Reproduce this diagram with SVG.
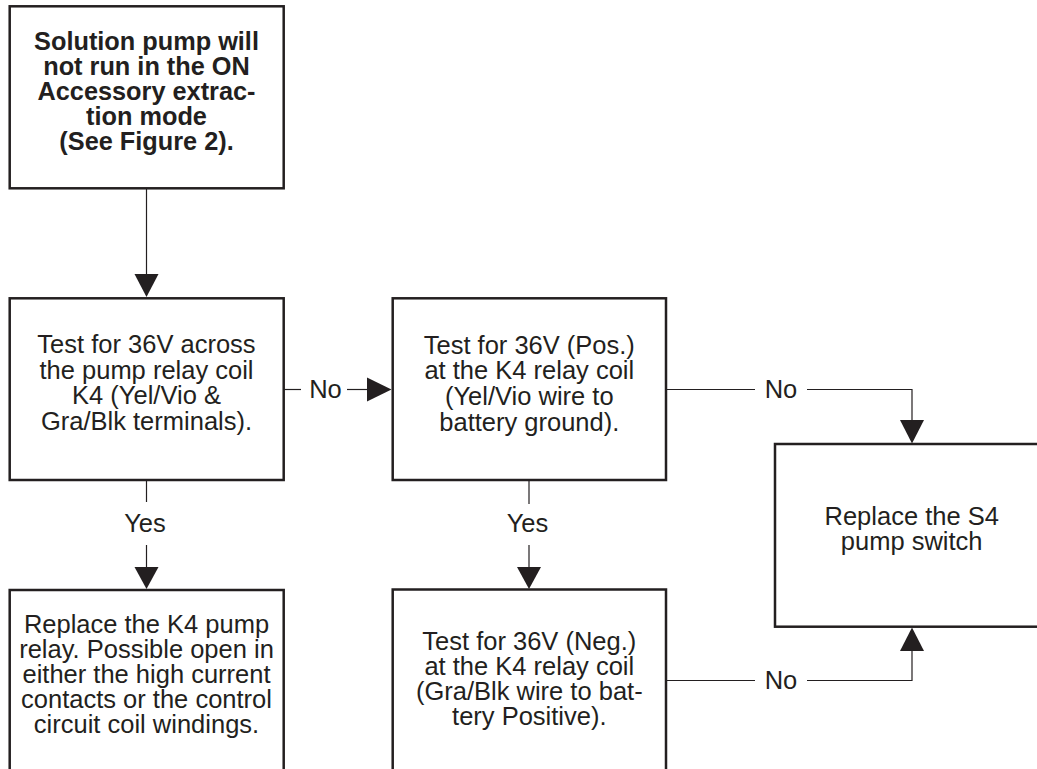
<svg xmlns="http://www.w3.org/2000/svg" width="1037" height="769" viewBox="0 0 1037 769">
<style>
.box{fill:#fff;stroke:#231f20;stroke-width:2.5}
.c{fill:none;stroke:#231f20;stroke-width:1.2}
.ah{fill:#231f20}
text{font-family:"Liberation Sans",Arial,Helvetica,sans-serif;fill:#231f20;text-anchor:middle}
.t{font-size:25.5px}
.b{font-size:25.3px;font-weight:bold}
.l{font-size:25.5px}
</style>
<rect width="1037" height="769" fill="#fff"/>
<g id="connectors">
<path class="c" d="M146.5 188.5V275"/>
<polygon class="ah" points="134.5,274 158.5,274 146.5,297"/>
<path class="c" d="M284 389.5H301"/>
<path class="c" d="M347 389.5H368"/>
<polygon class="ah" points="367,377.5 367,401.5 391.5,389.5"/>
<text class="l" x="325.5" y="398">No</text>
<path class="c" d="M666 389.5H755"/>
<path class="c" d="M807 389.5H912V421"/>
<polygon class="ah" points="900,420 924,420 912,443.5"/>
<text class="l" x="781" y="397.5">No</text>
<path class="c" d="M666 680.5H755"/>
<path class="c" d="M807 680.5H912V650"/>
<polygon class="ah" points="900,651 924,651 912,627.5"/>
<text class="l" x="781" y="688.5">No</text>
<path class="c" d="M146.5 481V502"/>
<path class="c" d="M146.5 545V568"/>
<polygon class="ah" points="134.5,567 158.5,567 146.5,589"/>
<text class="l" x="145" y="531.5">Yes</text>
<path class="c" d="M529 481V504"/>
<path class="c" d="M529 545V568"/>
<polygon class="ah" points="517,567 541,567 529,589"/>
<text class="l" x="527.5" y="531.5">Yes</text>
</g>
<g id="n1">
<rect class="box" x="9.7" y="6.3" width="274" height="182"/>
<text class="b" x="146.5" y="50">Solution pump will</text>
<text class="b" x="146.5" y="75">not run in the ON</text>
<text class="b" x="146.5" y="100">Accessory extrac-</text>
<text class="b" x="146.5" y="125">tion mode</text>
<text class="b" x="146.5" y="150">(See Figure 2).</text>
</g>
<g id="n2">
<rect class="box" x="9.7" y="298.3" width="274" height="181.7"/>
<text class="t" x="146.5" y="353">Test for 36V across</text>
<text class="t" x="146.5" y="378.7">the pump relay coil</text>
<text class="t" x="146.5" y="404.4">K4 (Yel/Vio &amp;</text>
<text class="t" x="146.5" y="430">Gra/Blk terminals).</text>
</g>
<g id="n3">
<rect class="box" x="392.7" y="298.3" width="273.3" height="181.7"/>
<text class="t" x="529.3" y="353.5">Test for 36V (Pos.)</text>
<text class="t" x="529.3" y="379.2">at the K4 relay coil</text>
<text class="t" x="529.3" y="404.9">(Yel/Vio wire  to</text>
<text class="t" x="529.3" y="430.5">battery ground).</text>
</g>
<g id="n4">
<rect class="box" x="775" y="444" width="300" height="182.7"/>
<text class="t" x="911.7" y="525">Replace the S4</text>
<text class="t" x="911.7" y="549.5">pump switch</text>
</g>
<g id="n5">
<rect class="box" x="9.7" y="590" width="274" height="200"/>
<text class="t" x="146.5" y="633">Replace the K4 pump</text>
<text class="t" x="146.5" y="658">relay. Possible open in</text>
<text class="t" x="146.5" y="683">either the high current</text>
<text class="t" x="146.5" y="708">contacts or the control</text>
<text class="t" x="146.5" y="733">circuit coil windings.</text>
</g>
<g id="n6">
<rect class="box" x="392.7" y="589.5" width="273.3" height="200"/>
<text class="t" x="529.3" y="650">Test for 36V (Neg.)</text>
<text class="t" x="529.3" y="675">at the K4 relay coil</text>
<text class="t" x="529.3" y="700">(Gra/Blk wire to bat-</text>
<text class="t" x="529.3" y="725">tery Positive).</text>
</g>
</svg>
